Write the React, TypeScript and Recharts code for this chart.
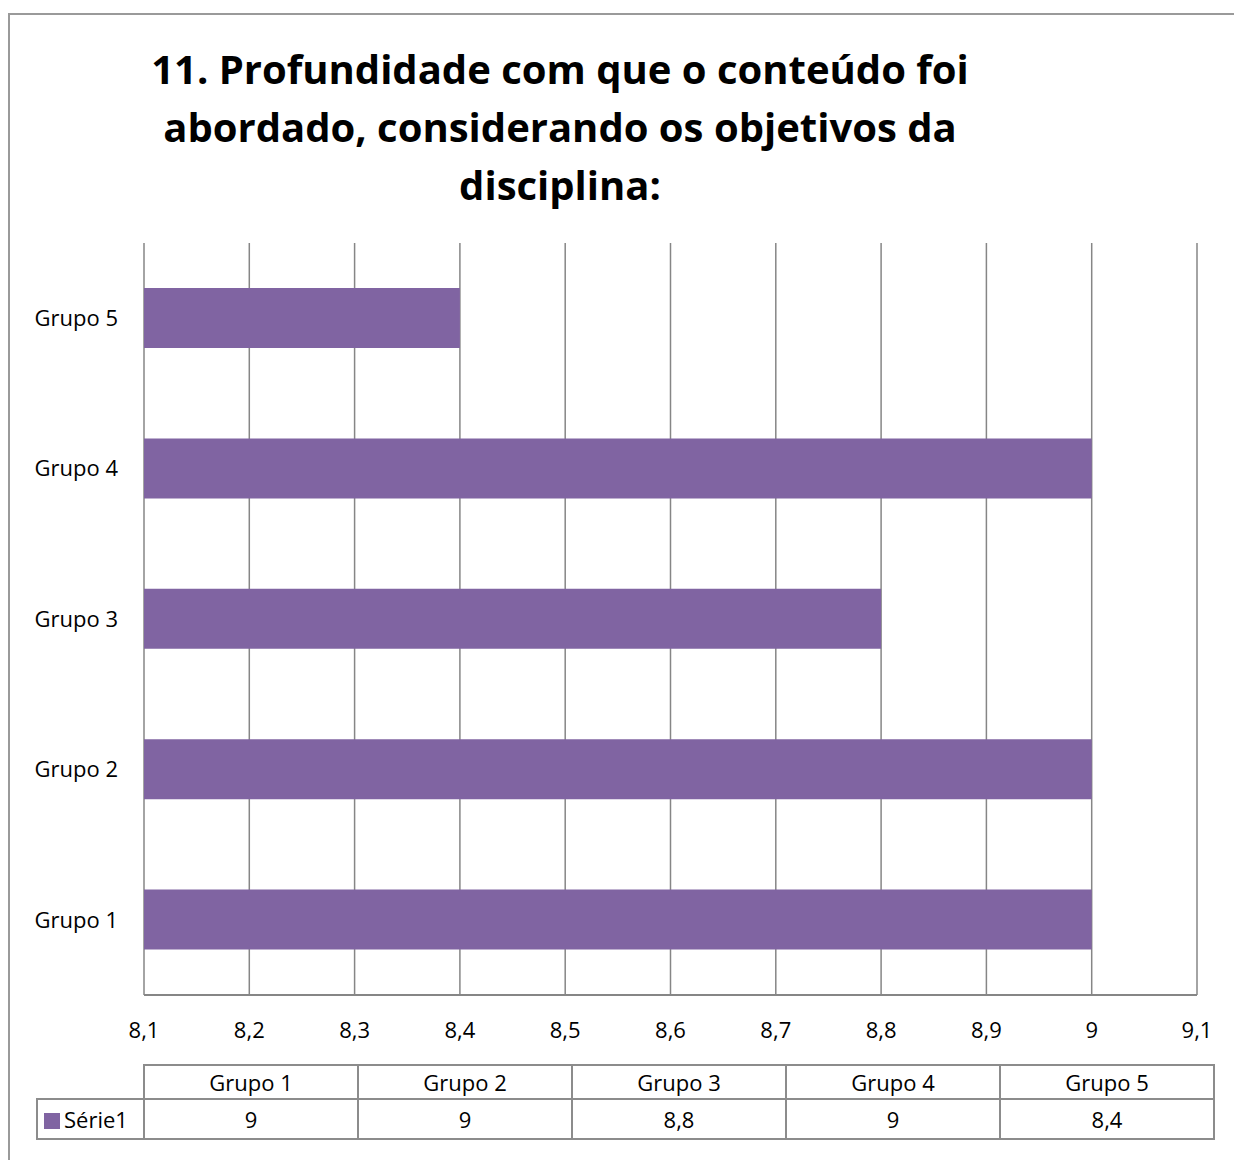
import React from 'react';
import { BarChart, Bar, XAxis, YAxis, CartesianGrid } from 'recharts';

const categories = ['Grupo 1', 'Grupo 2', 'Grupo 3', 'Grupo 4', 'Grupo 5'];
const serie1 = [9, 9, 8.8, 9, 8.4];
const xTicks = [8.1, 8.2, 8.3, 8.4, 8.5, 8.6, 8.7, 8.8, 8.9, 9, 9.1];
const seriesName = 'Série1';
const titleLines = [
  '11. Profundidade com que o conteúdo foi',
  'abordado, considerando os objetivos da',
  'disciplina:',
];

const FONT = '"Open Sans", Lato, sans-serif';
const PURPLE = '#8064A2';
const GRID = '#868686';

const fmt = (v: number) => String(v).replace('.', ',');

const data = categories.map((c, i) => ({ name: c, value: serie1[i] }));

const cell: React.CSSProperties = {
  border: '2px solid #8c8c8c',
  textAlign: 'center',
  padding: 0,
  fontSize: 22,
  color: '#000',
};

const App: React.FC = () => {
  return (
    <div style={{ position: 'absolute', left: 0, top: 0, width: 1234, height: 1160, background: '#fff', fontFamily: FONT, overflow: 'hidden' }}>
      {/* outer chart frame, cut off at right and bottom */}
      <div style={{ position: 'absolute', left: 8, top: 13, width: 1240, height: 1160, border: '2px solid #9a9a9a' }} />

      <div style={{ position: 'absolute', left: 60, width: 1000, top: 40, textAlign: 'center', fontWeight: 700, fontSize: 40, lineHeight: '58px', color: '#000' }}>
        {titleLines.map(l => <div key={l}>{l}</div>)}
      </div>

      <div style={{ position: 'absolute', left: 0, top: 0 }}>
        <BarChart
          width={1234}
          height={1160}
          data={data}
          layout="vertical"
          margin={{ top: 243, right: 37, bottom: 125, left: 24 }}
          barCategoryGap={0}
        >
          <CartesianGrid vertical horizontal={false} stroke={GRID} strokeWidth={1.5} />
          <XAxis
            type="number"
            domain={[8.1, 9.1]}
            ticks={xTicks}
            allowDataOverflow
            interval={0}
            tickFormatter={fmt}
            axisLine={{ stroke: GRID, strokeWidth: 2 }}
            tickLine={false}
            tickSize={0}
            tickMargin={27}
            height={40}
            tick={{ fill: '#000', fontSize: 22, fontFamily: FONT }}
          />
          <YAxis
            type="category"
            dataKey="name"
            reversed
            width={120}
            axisLine={false}
            tickLine={false}
            tickSize={0}
            tickMargin={26}
            tick={{ fill: '#000', fontSize: 22, fontFamily: FONT }}
          />
          <Bar dataKey="value" fill={PURPLE} barSize={60} isAnimationActive={false} />
        </BarChart>
      </div>

      <table style={{ position: 'absolute', left: 36, top: 1064, borderCollapse: 'collapse', fontFamily: FONT, tableLayout: 'fixed' }}>
        <tbody>
          <tr style={{ height: 34 }}>
            <td style={{ width: 104, border: 'none' }} />
            {categories.map(c => (
              <td key={c} style={{ ...cell, width: 212 }}>{c}</td>
            ))}
          </tr>
          <tr style={{ height: 40 }}>
            <td style={{ ...cell, textAlign: 'left', paddingLeft: 6, whiteSpace: 'nowrap' }}>
              <span style={{ display: 'inline-block', width: 16, height: 16, background: PURPLE, marginRight: 4, verticalAlign: -1 }} />
              {seriesName}
            </td>
            {serie1.map((v, i) => (
              <td key={categories[i]} style={cell}>{fmt(v)}</td>
            ))}
          </tr>
        </tbody>
      </table>
    </div>
  );
};

export default App;
